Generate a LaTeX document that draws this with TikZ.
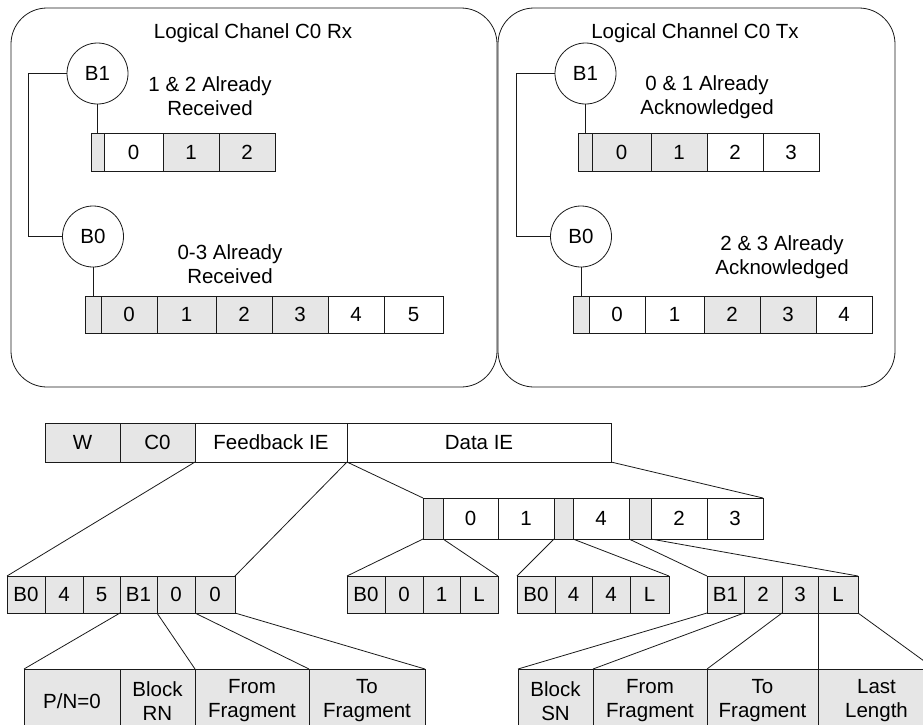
\documentclass[tikz,border=0pt]{standalone}
\usepackage{fontspec}
\setmainfont{Liberation Sans}
\definecolor{cellgray}{HTML}{E6E6E6}
\definecolor{linegray}{HTML}{1A1A1A}
\begin{document}
\begin{tikzpicture}[x=1pt,y=-1pt,
  every node/.style={font=\fontsize{20.5}{24}\selectfont},
  wire/.style={draw=linegray,line width=0.8pt},
  cell/.style={draw=linegray,line width=0.8pt,inner sep=0pt,outer sep=0pt,anchor=north west,align=center},
  gcell/.style={cell,fill=cellgray},
  wcell/.style={cell,fill=white},
  panel/.style={draw=linegray,line width=0.8pt,rounded corners=36pt,inner sep=0pt,outer sep=0pt,anchor=north west},
  buf/.style={circle,draw=linegray,line width=0.8pt,fill=white,inner sep=0pt,minimum size=61pt},
  note/.style={align=center,inner sep=0pt}]
\useasboundingbox (0,0) rectangle (923,724);
\clip (0,0) rectangle (923,724);

% ---------- receive side ----------
\node[panel,minimum width=486pt,minimum height=379pt] (rxpanel) at (11,8) {};
\node[note] (rxtitle) at (253,33) {Logical Chanel C0 Rx};
\node[buf] (rxb1) at (97.5,73.5) {B1};
\node[buf] (rxb0) at (93,236.5) {B0};
\node[note] (rxt1) at (210,96) {1 \& 2 Already\\Received};
\node[note] (rxt0) at (230,264) {0-3 Already\\Received};

\begin{scope}[every node/.append style={minimum height=38pt}]
\node[gcell,minimum width=13pt] (rxa) at (91,133) {};
\node[wcell,minimum width=59pt] (rxa0) at (104,133) {0};
\node[gcell,minimum width=56pt] (rxa1) at (163,133) {1};
\node[gcell,minimum width=56pt] (rxa2) at (219,133) {2};
\end{scope}
\begin{scope}[every node/.append style={minimum height=37pt}]
\node[gcell,minimum width=16pt] (rxb) at (85,296) {};
\node[gcell,minimum width=56pt] (rxb0c) at (101,296) {0};
\node[gcell,minimum width=59pt] (rxb1c) at (157,296) {1};
\node[gcell,minimum width=56pt] (rxb2c) at (216,296) {2};
\node[gcell,minimum width=56pt] (rxb3c) at (272,296) {3};
\node[wcell,minimum width=56pt] (rxb4c) at (328,296) {4};
\node[wcell,minimum width=59pt] (rxb5c) at (384,296) {5};
\end{scope}
\draw[wire] (rxb1.south) -- (rxb1.south |- rxa.north);
\draw[wire] (rxb0.south) -- (rxb0.south |- rxb.north);
\draw[wire] (rxb1.west) -- ++(-38,0) |- (rxb0.west);

% ---------- transmit side ----------
\node[panel,minimum width=397pt,minimum height=379pt] (txpanel) at (498,8) {};
\node[note] (txtitle) at (695,33) {Logical Channel C0 Tx};
\node[buf] (txb1) at (585.5,73.5) {B1};
\node[buf] (txb0) at (581,236.5) {B0};
\node[note] (txt1) at (707,97) {0 \& 1 Already\\Acknowledged};
\node[note] (txt0) at (782,257) {2 \& 3 Already\\Acknowledged};

\begin{scope}[every node/.append style={minimum height=38pt}]
\node[gcell,minimum width=14pt] (txa) at (578,133) {};
\node[gcell,minimum width=59pt] (txa0) at (592,133) {0};
\node[gcell,minimum width=56pt] (txa1) at (651,133) {1};
\node[wcell,minimum width=56pt] (txa2) at (707,133) {2};
\node[wcell,minimum width=56pt] (txa3) at (763,133) {3};
\end{scope}
\begin{scope}[every node/.append style={minimum height=37pt}]
\node[gcell,minimum width=16pt] (txb) at (573,296) {};
\node[wcell,minimum width=56pt] (txb0c) at (589,296) {0};
\node[wcell,minimum width=59pt] (txb1c) at (645,296) {1};
\node[gcell,minimum width=56pt] (txb2c) at (704,296) {2};
\node[gcell,minimum width=56pt] (txb3c) at (760,296) {3};
\node[wcell,minimum width=56pt] (txb4c) at (816,296) {4};
\end{scope}
\draw[wire] (txb1.south) -- (txb1.south |- txa.north);
\draw[wire] (txb0.south) -- (txb0.south |- txb.north);
\draw[wire] (txb1.west) -- ++(-38,0) |- (txb0.west);

% ---------- frame header ----------
\begin{scope}[every node/.append style={minimum height=39pt}]
\node[gcell,minimum width=75pt] (hw) at (45,423) {W};
\node[gcell,minimum width=75pt] (hc) at (120,423) {C0};
\node[wcell,minimum width=152pt] (fb) at (195,423) {Feedback IE};
\node[wcell,minimum width=264pt] (data) at (347,423) {Data IE};
\end{scope}

% ---------- data IE contents ----------
\begin{scope}[every node/.append style={minimum height=41pt}]
\node[gcell,minimum width=20pt] (dg1) at (423,498) {};
\node[wcell,minimum width=55pt] (d0) at (443,498) {0};
\node[wcell,minimum width=56pt] (d1) at (498,498) {1};
\node[gcell,minimum width=19pt] (dg2) at (554,498) {};
\node[wcell,minimum width=56pt] (d4) at (573,498) {4};
\node[gcell,minimum width=22pt] (dg3) at (629,498) {};
\node[wcell,minimum width=56pt] (d2) at (651,498) {2};
\node[wcell,minimum width=56pt] (d3) at (707,498) {3};
\end{scope}
\draw[wire] (data.south west) -- (dg1.north west);
\draw[wire] (data.south east) -- (d3.north east);

% ---------- feedback IE contents ----------
\begin{scope}[every node/.append style={gcell,minimum height=37pt}]
\node[minimum width=38pt] (fa) at (7,576) {B0};
\node[minimum width=38pt] (fb4) at (45,576) {4};
\node[minimum width=37pt] (fb5) at (83,576) {5};
\node[minimum width=37pt] (fbb1) at (120,576) {B1};
\node[minimum width=38pt] (fz1) at (157,576) {0};
\node[minimum width=40pt] (fz2) at (195,576) {0};
% data header blocks
\node[minimum width=38pt] (ea0) at (347,576) {B0};
\node[minimum width=38pt] (ea1) at (385,576) {0};
\node[minimum width=37pt] (ea2) at (423,576) {1};
\node[minimum width=38pt] (ea3) at (460,576) {L};
\node[minimum width=38pt] (eb0) at (517,576) {B0};
\node[minimum width=37pt] (eb1) at (555,576) {4};
\node[minimum width=38pt] (eb2) at (592,576) {4};
\node[minimum width=39pt] (eb3) at (630,576) {L};
\node[minimum width=37pt] (ec0) at (707,576) {B1};
\node[minimum width=38pt] (ec1) at (744,576) {2};
\node[minimum width=36pt] (ec2) at (782,576) {3};
\node[minimum width=40pt] (ec3) at (818,576) {L};
\end{scope}
\draw[wire] (fb.south west) -- (fa.north west);
\draw[wire] (fb.south east) -- (fz2.north east);
\draw[wire] (dg1.south west) -- (ea0.north west);
\draw[wire] (dg1.south east) -- (ea3.north east);
\draw[wire] (dg2.south west) -- (eb0.north west);
\draw[wire] (dg2.south east) -- (eb3.north east);
\draw[wire] (dg3.south west) -- (ec0.north west);
\draw[wire] (dg3.south east) -- (ec3.north east);

% ---------- field descriptions ----------
\begin{scope}[every node/.append style={gcell,minimum height=64pt}]
\node[minimum width=96pt] (pn) at (24,669) {P/N=0};
\node[minimum width=75pt] (brn) at (120,669) {Block\\RN};
\node[minimum width=114pt] (ffr) at (195,669) {From\\Fragment};
\node[minimum width=116pt] (tfr) at (309,669) {To\\Fragment};
\node[minimum width=75pt] (bsn) at (518,669) {Block\\SN};
\node[minimum width=114pt] (ffs) at (593,669) {From\\Fragment};
\node[minimum width=111pt] (tfs) at (707,669) {To\\Fragment};
\node[minimum width=117pt] (lln) at (818,669) {Last\\Length};
\end{scope}
\draw[wire] (fbb1.south west) -- (pn.north west);
\draw[wire] (fbb1.south east) -- (brn.north east);
\draw[wire] (fz1.south east) -- (ffr.north east);
\draw[wire] (fz2.south east) -- (tfr.north east);
\draw[wire] (ec0.south west) -- (bsn.north west);
\draw[wire] (ec0.south east) -- (ffs.north west);
\draw[wire] (ec1.south east) -- (tfs.north west);
\draw[wire] (ec2.south east) -- (lln.north west);
\draw[wire] (ec3.south east) -- (lln.north east);
\end{tikzpicture}
\end{document}
